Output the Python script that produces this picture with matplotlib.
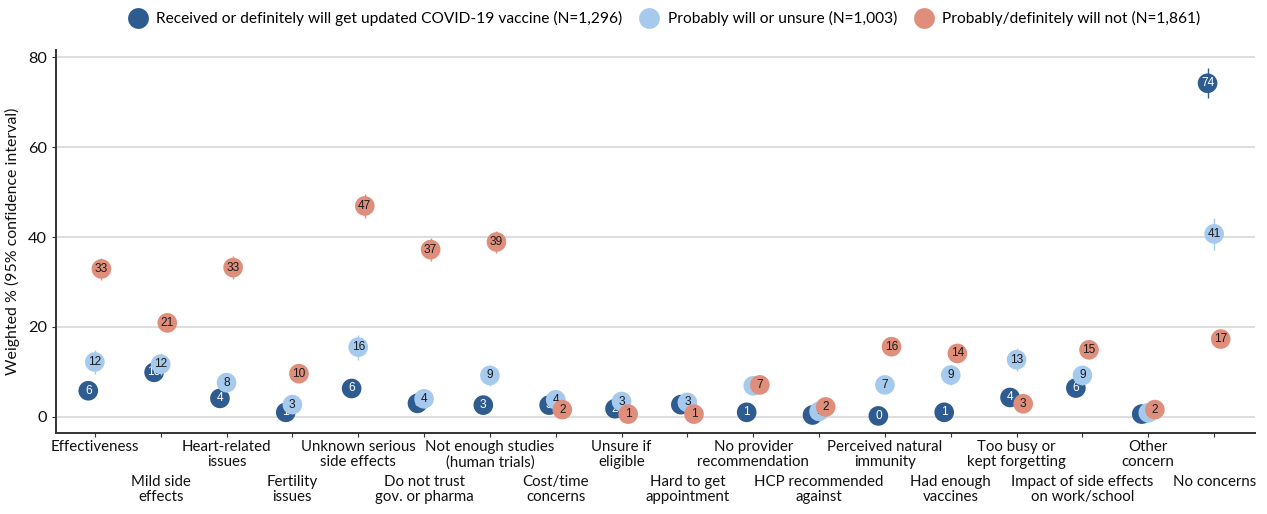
import matplotlib
matplotlib.use("Agg")
import matplotlib.pyplot as plt
from matplotlib.lines import Line2D
import numpy as np

# Reasons for hesitancy / concerns about the updated COVID-19 vaccine
categories = [
    "Effectiveness", "Mild side\neffects", "Heart-related\nissues", "Fertility\nissues",
    "Unknown serious\nside effects", "Do not trust\ngov. or pharma",
    "Not enough studies\n(human trials)", "Cost/time\nconcerns", "Unsure if\neligible",
    "Hard to get\nappointment", "No provider\nrecommendation", "HCP recommended\nagainst",
    "Perceived natural\nimmunity", "Had enough\nvaccines", "Too busy or\nkept forgetting",
    "Impact of side effects\non work/school", "Other\nconcern", "No concerns",
]

series_names = [
    "Received or definitely will get updated COVID-19 vaccine (N=1,296)",
    "Probably will or unsure (N=1,003)",
    "Probably/definitely will not (N=1,861)",
]

received = [5.8, 9.9, 4.1, 1.0, 6.3, 3.0, 2.6, 2.6, 1.8, 2.7, 1.0, 0.4, 0.2, 1.0, 4.3, 6.4, 0.6, 74.2]
unsure = [12.2, 11.7, 7.6, 2.7, 15.5, 4.0, 9.2, 3.8, 3.4, 3.2, 6.9, 1.2, 7.1, 9.3, 12.7, 9.2, 0.9, 40.7]
will_not = [32.9, 20.9, 33.2, 9.6, 46.9, 37.2, 38.9, 1.6, 0.6, 0.6, 7.1, 2.2, 15.6, 14.1, 2.9, 14.9, 1.6, 17.3]

# 95% confidence interval half-widths
received_ci = [1.4, 1.8, 1.2, 0.6, 1.5, 1.0, 0.9, 0.9, 0.8, 0.9, 0.6, 0.4, 0.3, 0.6, 1.2, 1.5, 0.5, 3.3]
unsure_ci = [2.6, 2.5, 2.0, 1.1, 2.8, 1.4, 2.3, 1.3, 1.2, 1.2, 1.8, 0.8, 1.8, 2.2, 2.5, 2.2, 0.6, 3.5]
will_not_ci = [2.5, 2.1, 2.5, 1.6, 2.6, 2.5, 2.5, 0.7, 0.4, 0.4, 1.4, 0.8, 1.9, 1.8, 0.9, 1.9, 0.7, 2.0]

colors = ["#2E5B90", "#A6C9EE", "#E08E7C"]
text_colors = ["white", "#1a1a1a", "#1a1a1a"]
offsets = [-0.1, 0.0, 0.1]

fig = plt.figure(figsize=(12.67, 5.14), dpi=100)
ax = fig.add_axes([0.0442, 0.1576, 0.9463, 0.7451])

x = np.arange(len(categories))
for vals, cis, col, tcol, off in zip([received, unsure, will_not],
                                     [received_ci, unsure_ci, will_not_ci],
                                     colors, text_colors, offsets):
    xs = x + off
    vals = np.asarray(vals)
    cis = np.asarray(cis)
    ax.errorbar(xs, vals, yerr=cis, fmt="none", ecolor=col, elinewidth=1.0,
                capsize=0, zorder=3)
    ax.scatter(xs, vals, s=200, color=col, edgecolors="none", zorder=3)
    for xi, v in zip(xs, vals):
        ax.text(xi, v, f"{v:.0f}", ha="center", va="center", fontsize=8.6,
                color=tcol, family="Liberation Sans", zorder=3)

ax.set_xlim(-0.59, 17.62)
ax.set_ylim(-3.6, 81.6)
ax.set_yticks([0, 20, 40, 60, 80])
ax.yaxis.grid(True, color="#d4d4d4", linewidth=1.1, zorder=0)
ax.set_axisbelow(True)
for side in ("top", "right"):
    ax.spines[side].set_visible(False)
for side in ("left", "bottom"):
    ax.spines[side].set_color("#333333")
    ax.spines[side].set_linewidth(1.4)

ax.set_xticks(x)
ax.set_xticklabels(categories, fontsize=10.8, family="Lato", color="#111111",
                   linespacing=1.1)
ax.tick_params(axis="x", length=3, color="#333333", pad=2)
ax.tick_params(axis="y", length=3, color="#333333", labelsize=11.8, labelcolor="#111111")
for lab in ax.get_yticklabels():
    lab.set_family("Lato")
for i, tick in enumerate(ax.xaxis.get_major_ticks()):
    if i % 2 == 1:
        tick.set_pad(27)

ax.set_ylabel("Weighted % (95% confidence interval)", fontsize=11.4, family="Lato",
              color="#111111", labelpad=6)

handles = [Line2D([], [], marker="o", linestyle="none", markersize=15,
                  markerfacecolor=c, markeredgecolor="none") for c in colors]
fig.legend(handles, series_names, loc="upper center", bbox_to_anchor=(0.522, 1.0),
           ncol=3, frameon=False, prop={"family": "Lato", "size": 11.2},
           handletextpad=0.2, columnspacing=0.7, borderaxespad=0.3)

fig.savefig("out.png", dpi=100)
